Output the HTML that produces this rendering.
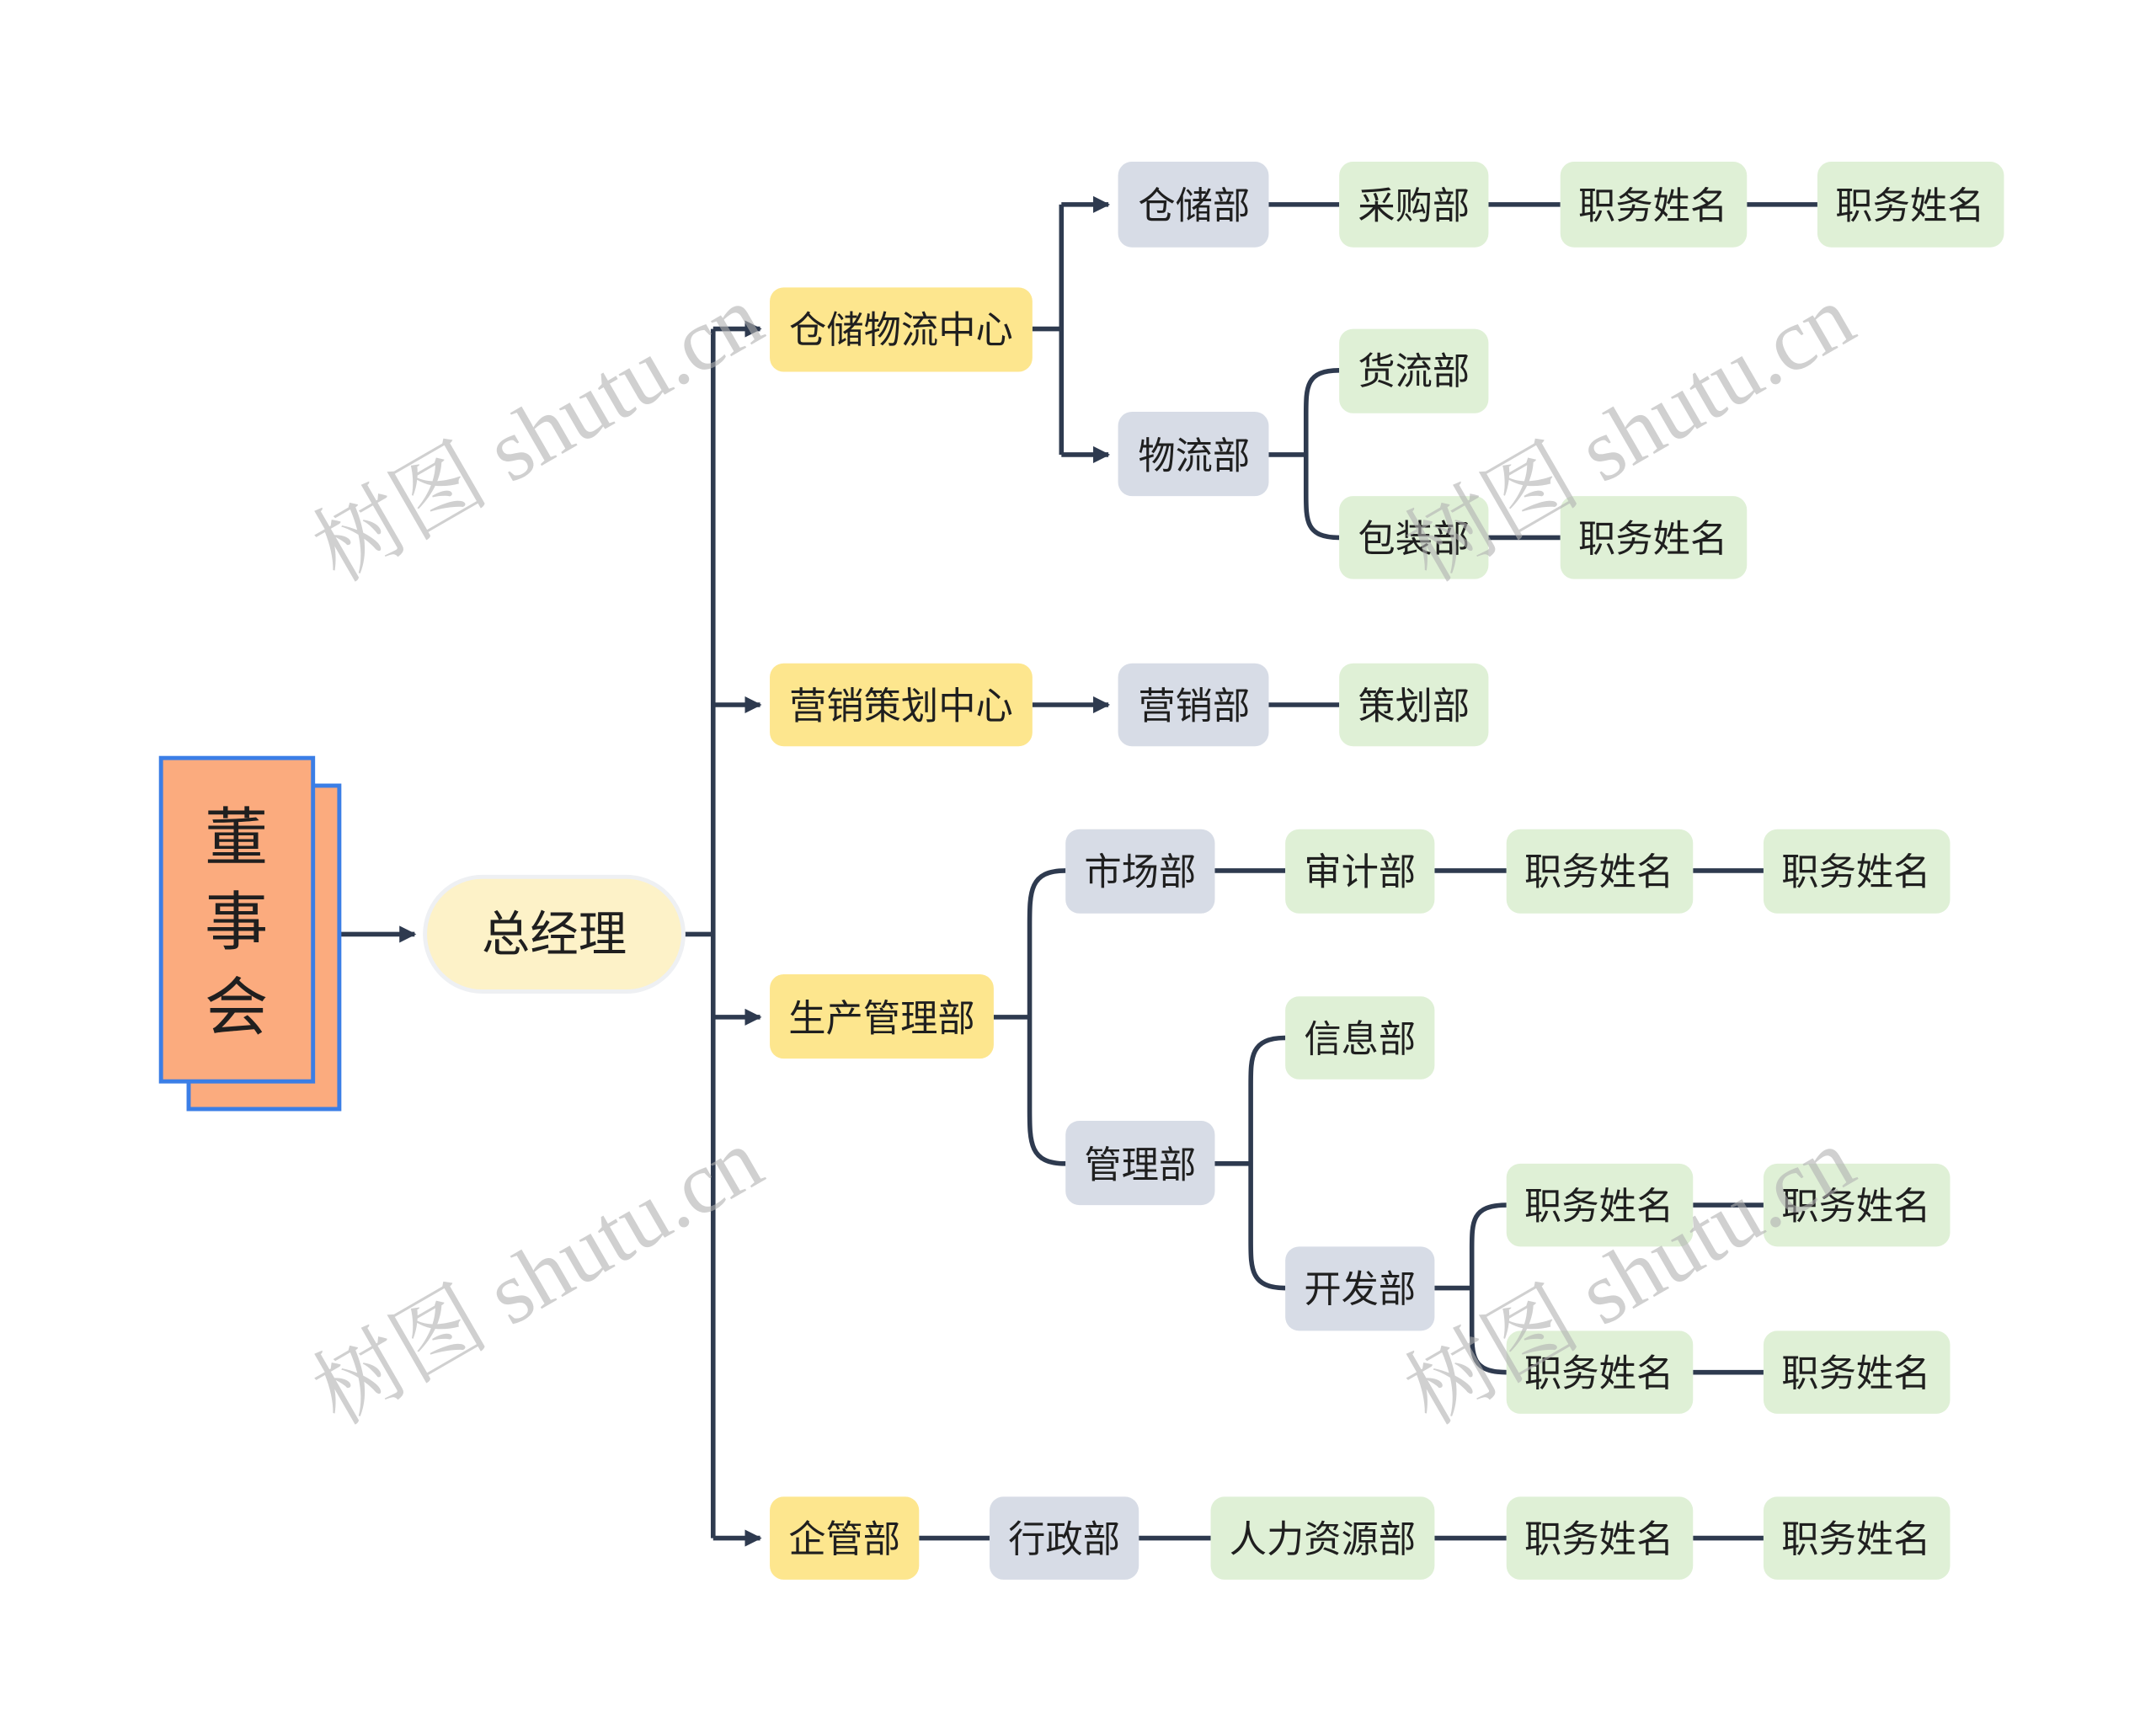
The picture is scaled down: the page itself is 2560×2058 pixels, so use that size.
<!DOCTYPE html>
<html><head><meta charset="utf-8"><style>
html,body{margin:0;padding:0;background:#fff;}
svg{display:block;}
text{font-family:"Liberation Sans","Noto Sans CJK SC",sans-serif;fill:#1f1f1f;}
text.wm{font-family:"Liberation Serif","Noto Serif CJK SC",serif;fill:#b0b0b0;fill-opacity:0.6;}
</style></head><body>
<svg width="2560" height="2058" viewBox="0 0 1560 1254" preserveAspectRatio="none" xmlns="http://www.w3.org/2000/svg">
<defs>
<marker id="ah" viewBox="0 0 10 10" refX="9" refY="5" markerWidth="3.6" markerHeight="3.6" orient="auto" markerUnits="strokeWidth"><path d="M0,0 L10,5 L0,10 z" fill="#2e3a4f"/></marker>
</defs>
<rect width="1560" height="1254" fill="#fff"/>
<!-- connectors -->
<g stroke="#2e3a4f" stroke-width="3.4" fill="none" stroke-linecap="butt">
<path d="M246,676 H300" marker-end="url(#ah)"/>
<path d="M495,676 H516"/>
<path d="M516,238 V1113"/>
<path d="M516,238 H550" marker-end="url(#ah)"/>
<path d="M516,510 H550" marker-end="url(#ah)"/>
<path d="M516,736 H550" marker-end="url(#ah)"/>
<path d="M516,1113 H550" marker-end="url(#ah)"/>
<path d="M747,238 H768 M768,148 V329"/>
<path d="M768,148 H802" marker-end="url(#ah)"/>
<path d="M768,329 H802" marker-end="url(#ah)"/>
<path d="M747,510 H802" marker-end="url(#ah)"/>
<path d="M918,148 H969 M1077,148 H1129 M1264,148 H1315"/>
<path d="M918,329 H945 M969,268 C945,268 945,280 945,300 V357 C945,377 945,389 969,389"/>
<path d="M1077,389 H1129"/>
<path d="M918,510 H969"/>
<path d="M719,736 H745 M771,630 C745,630 745,645 745,670 V802 C745,827 745,842 771,842"/>
<path d="M879,630 H930 M1038,630 H1090 M1225,630 H1276"/>
<path d="M879,842 H905 M930,751 C905,751 905,765 905,785 V898 C905,918 905,932 930,932"/>
<path d="M1038,932 H1065 M1090,872 C1065,872 1065,884 1065,904 V961 C1065,981 1065,993 1090,993"/>
<path d="M1225,872 H1276 M1225,993 H1276"/>
<path d="M665,1113 H716 M824,1113 H876 M1038,1113 H1090 M1225,1113 H1276"/>
</g>
<!-- 董事会 -->
<rect x="136.5" y="568.5" width="109" height="234" fill="#fbab7e" stroke="#3b7ee6" stroke-width="3"/>
<rect x="116.5" y="548.5" width="110" height="234" fill="#fbab7e" stroke="#3b7ee6" stroke-width="3"/>
<text x="171" y="622" font-size="46" text-anchor="middle">董</text>
<text x="171" y="683" font-size="46" text-anchor="middle">事</text>
<text x="171" y="745" font-size="46" text-anchor="middle">会</text>
<!-- 总经理 -->
<rect x="307.5" y="634.5" width="187" height="83" rx="41.5" fill="#fdf2c8" stroke="#eef0f3" stroke-width="3"/>
<text x="401" y="688" font-size="35" text-anchor="middle">总经理</text>
<!-- nodes -->
<g font-size="27" text-anchor="middle">
<rect x="557" y="208" width="190" height="61" rx="10" fill="#fde68e"/><text x="652" y="248">仓储物流中心</text>
<rect x="557" y="480" width="190" height="60" rx="10" fill="#fde68e"/><text x="652" y="520">营销策划中心</text>
<rect x="557" y="705" width="162" height="61" rx="10" fill="#fde68e"/><text x="638" y="746">生产管理部</text>
<rect x="557" y="1083" width="108" height="60" rx="10" fill="#fde68e"/><text x="611" y="1123">企管部</text>

<rect x="809" y="117" width="109" height="62" rx="10" fill="#d7dce6"/><text x="864" y="158">仓储部</text>
<rect x="809" y="298" width="109" height="61" rx="10" fill="#d7dce6"/><text x="864" y="339">物流部</text>
<rect x="809" y="480" width="109" height="60" rx="10" fill="#d7dce6"/><text x="864" y="520">营销部</text>
<rect x="771" y="600" width="108" height="61" rx="10" fill="#d7dce6"/><text x="825" y="640">市场部</text>
<rect x="771" y="811" width="108" height="61" rx="10" fill="#d7dce6"/><text x="825" y="852">管理部</text>
<rect x="930" y="902" width="108" height="61" rx="10" fill="#d7dce6"/><text x="984" y="942">开发部</text>
<rect x="716" y="1083" width="108" height="60" rx="10" fill="#d7dce6"/><text x="770" y="1123">行政部</text>

<g fill="#dff0d6">
<rect x="969" y="117" width="108" height="62" rx="10"/>
<rect x="1129" y="117" width="135" height="62" rx="10"/>
<rect x="1315" y="117" width="135" height="62" rx="10"/>
<rect x="969" y="238" width="108" height="61" rx="10"/>
<rect x="969" y="359" width="108" height="60" rx="10"/>
<rect x="1129" y="359" width="135" height="60" rx="10"/>
<rect x="969" y="480" width="108" height="60" rx="10"/>
<rect x="930" y="600" width="108" height="61" rx="10"/>
<rect x="1090" y="600" width="135" height="61" rx="10"/>
<rect x="1276" y="600" width="135" height="61" rx="10"/>
<rect x="930" y="721" width="108" height="60" rx="10"/>
<rect x="1090" y="842" width="135" height="60" rx="10"/>
<rect x="1276" y="842" width="135" height="60" rx="10"/>
<rect x="1090" y="963" width="135" height="60" rx="10"/>
<rect x="1276" y="963" width="135" height="60" rx="10"/>
<rect x="876" y="1083" width="162" height="60" rx="10"/>
<rect x="1090" y="1083" width="135" height="60" rx="10"/>
<rect x="1276" y="1083" width="135" height="60" rx="10"/>
</g>
<text x="1023" y="158">采购部</text>
<text x="1196" y="158">职务姓名</text>
<text x="1382" y="158">职务姓名</text>
<text x="1023" y="278">货流部</text>
<text x="1023" y="399">包装部</text>
<text x="1196" y="399">职务姓名</text>
<text x="1023" y="520">策划部</text>
<text x="984" y="640">审计部</text>
<text x="1157" y="640">职务姓名</text>
<text x="1343" y="640">职务姓名</text>
<text x="984" y="761">信息部</text>
<text x="1157" y="882">职务姓名</text>
<text x="1343" y="882">职务姓名</text>
<text x="1157" y="1003">职务姓名</text>
<text x="1343" y="1003">职务姓名</text>
<text x="957" y="1123">人力资源部</text>
<text x="1157" y="1123">职务姓名</text>
<text x="1343" y="1123">职务姓名</text>
</g>
<!-- watermarks on top -->
<g font-size="64" text-anchor="middle">
<text class="wm" x="390" y="335" transform="rotate(-30 390 315)">树图 shutu.cn</text>
<text class="wm" x="1180" y="335" transform="rotate(-30 1180 315)">树图 shutu.cn</text>
<text class="wm" x="390" y="945" transform="rotate(-30 390 925)">树图 shutu.cn</text>
<text class="wm" x="1180" y="945" transform="rotate(-30 1180 925)">树图 shutu.cn</text>
</g>
</svg>
</body></html>
